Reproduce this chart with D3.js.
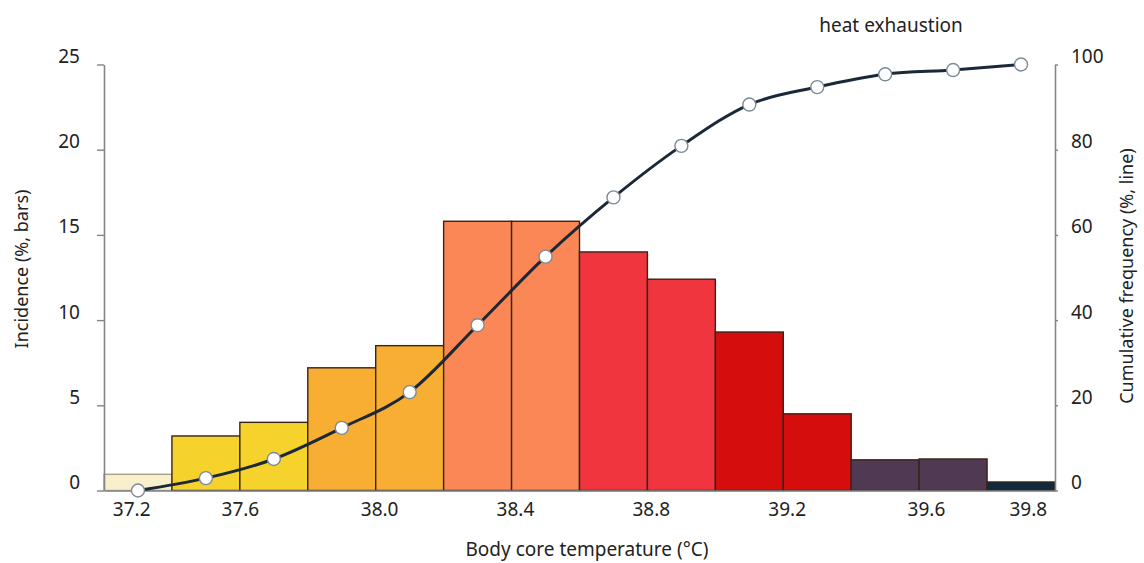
<!DOCTYPE html>
<html>
<head>
<meta charset="utf-8">
<script src="https://cdn.jsdelivr.net/npm/d3@7"></script>
<style>
    body { margin: 0; background: #fff; }
    svg { font-family: "Noto Sans", "Open Sans", sans-serif; }
    .tick text { fill: #222; font-size: 19px; font-family: "Noto Sans", sans-serif; }
    .domain { stroke: #858585; stroke-width: 1.6; }
    .tick line { stroke: #858585; stroke-width: 1.4; }
    .label { fill: #222; font-size: 18px; }
</style>
</head>
<body>
<svg id="chart" width="1144" height="563"></svg>
<script>
// Lower edge of each 0.2 °C bin
const binStarts = [37.2, 37.4, 37.6, 37.8, 38.0, 38.2, 38.4, 38.6, 38.8, 39.0, 39.2, 39.4, 39.6, 39.8];
// Incidence per bin (%, bars)
const incidence = [0.95, 3.2, 4.0, 7.2, 8.5, 15.8, 15.8, 14.0, 12.4, 9.3, 4.5, 1.8, 1.85, 0.5];
// Cumulative frequency at bin centre (%, line)
const cumulative = [0, 2.9, 7.4, 14.7, 23.1, 38.8, 54.9, 68.8, 80.9, 90.6, 94.7, 97.7, 98.7, 100];
const barColors = ['#f8f0cc', '#f6d22c', '#f6d22c', '#f7ae32', '#f7ae32', '#fa8755', '#fa8755',
    '#f0353f', '#f0353f', '#d50d0d', '#d50d0d', '#4f3953', '#4f3953', '#0e2a3c'];
// X tick labels and where they sit on the temperature axis (end labels are pulled inward)
const xTickLabels = ['37.2', '37.6', '38.0', '38.4', '38.8', '39.2', '39.6', '39.8'];
const xTickAt = [37.28, 37.6, 38.01, 38.41, 38.81, 39.21, 39.62, 39.92];
const leftTicks = [0, 5, 10, 15, 20, 25];
const rightTicks = [0, 20, 40, 60, 80, 100];

const svg = d3.select('#chart');
const binWidth = 0.2;

const x = d3.scaleLinear()
    .domain([binStarts[0], binStarts[binStarts.length - 1] + binWidth])
    .range([104, 1055]);
const yLeft = d3.scaleLinear().domain([0, 25]).range([490.5, 64.5]);
const yRight = d3.scaleLinear().domain([0, 100]).range([490.5, 64.5]);

// Bars
svg.append('g')
    .selectAll('rect')
    .data(binStarts)
    .join('rect')
    .attr('x', d => x(d))
    .attr('width', d => x(d + binWidth) - x(d))
    .attr('y', (d, i) => yLeft(incidence[i]))
    .attr('height', (d, i) => yLeft(0) - yLeft(incidence[i]))
    .attr('fill', (d, i) => barColors[i])
    .attr('stroke', (d, i) => i === 0 ? '#a89f86' : '#3a2418')
    .attr('stroke-width', 1.4);

// Axes
svg.append('g')
    .attr('transform', `translate(0,${yLeft(0)})`)
    .call(d3.axisBottom(x).tickValues(xTickAt).tickSize(0).tickSizeOuter(0).tickPadding(12.5)
        .tickFormat((d, i) => xTickLabels[i]));

svg.append('g')
    .attr('class', 'y-axis')
    .attr('transform', `translate(${x.range()[0]},0)`)
    .call(d3.axisLeft(yLeft).tickValues(leftTicks).tickSize(7).tickSizeOuter(0).tickPadding(17));

svg.append('g')
    .attr('class', 'y-axis')
    .attr('transform', `translate(${x.range()[1]},0)`)
    .call(d3.axisRight(yRight).tickValues(rightTicks).tickSize(3).tickSizeOuter(0).tickPadding(13));

// Value labels sit a little above their ticks
svg.selectAll('.y-axis .tick text').attr('y', -8);

// Cumulative line
const line = d3.line()
    .x(d => x(d[0]))
    .y(d => yRight(d[1]))
    .curve(d3.curveMonotoneX);

const points = binStarts.map((t, i) => [t + binWidth / 2, cumulative[i]]);

svg.append('path')
    .datum(points)
    .attr('d', line)
    .attr('fill', 'none')
    .attr('stroke', '#1b2838')
    .attr('stroke-width', 3);

svg.append('g')
    .selectAll('circle')
    .data(points)
    .join('circle')
    .attr('cx', d => x(d[0]))
    .attr('cy', d => yRight(d[1]))
    .attr('r', 6.5)
    .attr('fill', '#fff')
    .attr('stroke', '#7d8b98')
    .attr('stroke-width', 1.4);

// Labels
svg.append('text').attr('class', 'label')
    .attr('x', 891).attr('y', 32).attr('text-anchor', 'middle')
    .style('font-size', '19px')
    .text('heat exhaustion');

svg.append('text').attr('class', 'label')
    .attr('x', 587).attr('y', 556).attr('text-anchor', 'middle')
    .style('font-size', '19px')
    .text('Body core temperature (°C)');

svg.append('text').attr('class', 'label')
    .attr('transform', 'translate(28,269) rotate(-90)')
    .attr('text-anchor', 'middle')
    .text('Incidence (%, bars)');

svg.append('text').attr('class', 'label')
    .attr('transform', 'translate(1133,276) rotate(-90)')
    .attr('text-anchor', 'middle')
    .text('Cumulative frequency (%, line)');
</script>
</body>
</html>
